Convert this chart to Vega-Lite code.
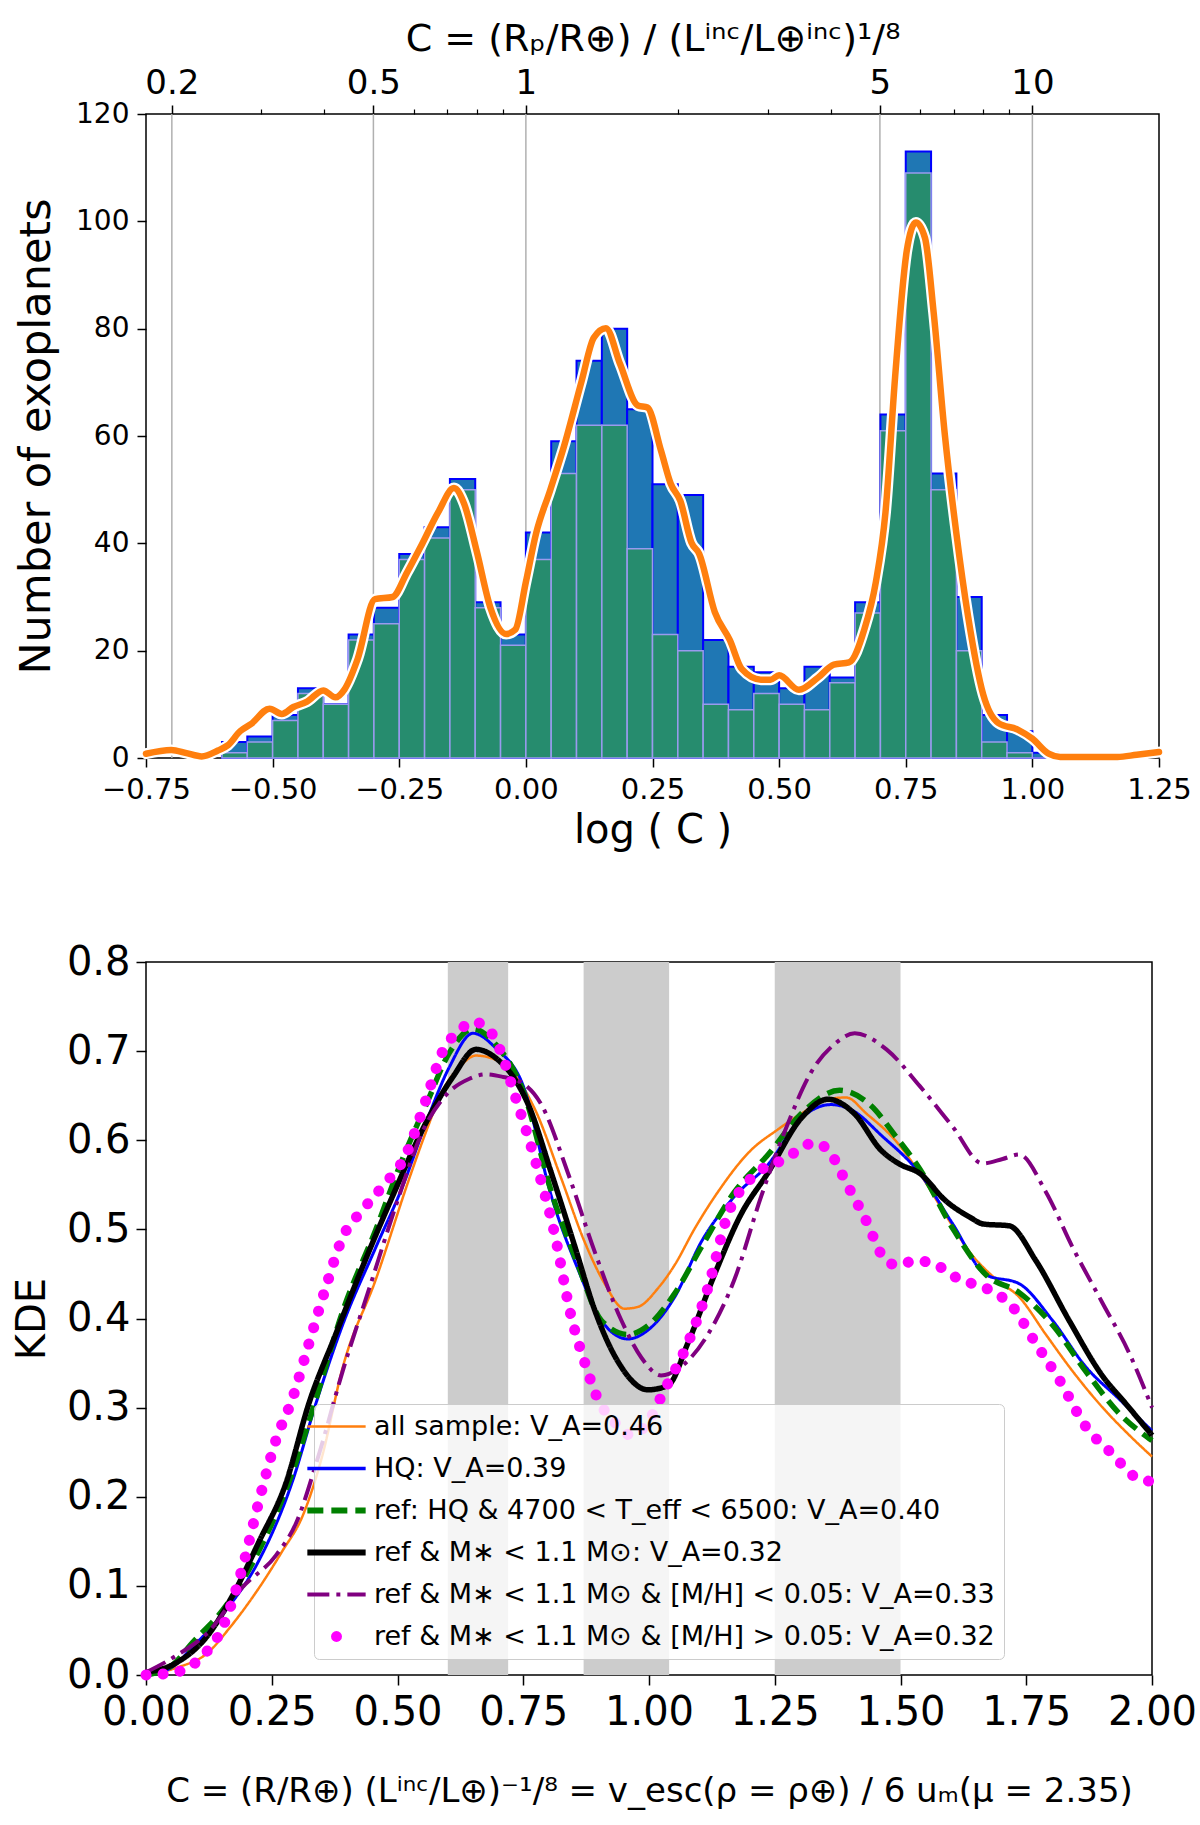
{
  "$schema": "https://vega.github.io/schema/vega-lite/v6.json",
  "padding": {"left": 11, "top": 19, "right": 4, "bottom": 4},
  "spacing": 90,
  "resolve": {"legend": {"color": "independent"}},
  "config": {
    "font": "DejaVu Sans",
    "view": {"stroke": "#000000", "strokeWidth": 1.5},
    "axis": {"domain": false, "grid": false, "tickColor": "#000000", "tickWidth": 1.5, "tickSize": 9, "labelColor": "#000000", "titleColor": "#000000", "titleFontWeight": "normal", "labelFont": "DejaVu Sans", "titleFont": "DejaVu Sans", "labelFlush": false, "labelOverlap": false}
  },
  "datasets": {
    "major": [{"lc": -0.69897}, {"lc": -0.30103}, {"lc": 0}, {"lc": 0.69897}, {"lc": 1}],
    "minor": [{"lc": -0.52288}, {"lc": -0.39794}, {"lc": -0.22185}, {"lc": -0.1549}, {"lc": -0.09691}, {"lc": -0.04576}, {"lc": 0.30103}, {"lc": 0.47712}, {"lc": 0.60206}, {"lc": 0.77815}, {"lc": 0.8451}, {"lc": 0.90309}, {"lc": 0.95424}],
    "hist": [
      {"lo": -0.60, "hi": -0.55, "all": 3, "sub": 1},
      {"lo": -0.55, "hi": -0.50, "all": 4, "sub": 3},
      {"lo": -0.50, "hi": -0.45, "all": 8, "sub": 7},
      {"lo": -0.45, "hi": -0.40, "all": 13, "sub": 12},
      {"lo": -0.40, "hi": -0.35, "all": 10, "sub": 10},
      {"lo": -0.35, "hi": -0.30, "all": 23, "sub": 22},
      {"lo": -0.30, "hi": -0.25, "all": 28, "sub": 25},
      {"lo": -0.25, "hi": -0.20, "all": 38, "sub": 37},
      {"lo": -0.20, "hi": -0.15, "all": 43, "sub": 41},
      {"lo": -0.15, "hi": -0.10, "all": 52, "sub": 50},
      {"lo": -0.10, "hi": -0.05, "all": 29, "sub": 28},
      {"lo": -0.05, "hi": 0.00, "all": 23, "sub": 21},
      {"lo": 0.00, "hi": 0.05, "all": 42, "sub": 37},
      {"lo": 0.05, "hi": 0.10, "all": 59, "sub": 53},
      {"lo": 0.10, "hi": 0.15, "all": 74, "sub": 62},
      {"lo": 0.15, "hi": 0.20, "all": 80, "sub": 62},
      {"lo": 0.20, "hi": 0.25, "all": 65, "sub": 39},
      {"lo": 0.25, "hi": 0.30, "all": 51, "sub": 23},
      {"lo": 0.30, "hi": 0.35, "all": 49, "sub": 20},
      {"lo": 0.35, "hi": 0.40, "all": 22, "sub": 10},
      {"lo": 0.40, "hi": 0.45, "all": 17, "sub": 9},
      {"lo": 0.45, "hi": 0.50, "all": 16, "sub": 12},
      {"lo": 0.50, "hi": 0.55, "all": 13, "sub": 10},
      {"lo": 0.55, "hi": 0.60, "all": 17, "sub": 9},
      {"lo": 0.60, "hi": 0.65, "all": 15, "sub": 14},
      {"lo": 0.65, "hi": 0.70, "all": 29, "sub": 27},
      {"lo": 0.70, "hi": 0.75, "all": 64, "sub": 61},
      {"lo": 0.75, "hi": 0.80, "all": 113, "sub": 109},
      {"lo": 0.80, "hi": 0.85, "all": 53, "sub": 50},
      {"lo": 0.85, "hi": 0.90, "all": 30, "sub": 20},
      {"lo": 0.90, "hi": 0.95, "all": 8, "sub": 3},
      {"lo": 0.95, "hi": 1.00, "all": 5, "sub": 1},
      {"lo": 1.00, "hi": 1.05, "all": 1, "sub": 0}
    ],
    "kdeTop": [
      {"x": -0.75, "v": 0.8}, {"x": -0.70, "v": 1.5}, {"x": -0.67, "v": 0.9}, {"x": -0.64, "v": 0.3},
      {"x": -0.608, "v": 1.4}, {"x": -0.588, "v": 2.4}, {"x": -0.564, "v": 5.0}, {"x": -0.543, "v": 6.3},
      {"x": -0.506, "v": 9.2}, {"x": -0.482, "v": 8.2}, {"x": -0.459, "v": 9.5}, {"x": -0.432, "v": 10.5},
      {"x": -0.40, "v": 12.6}, {"x": -0.376, "v": 11.3}, {"x": -0.358, "v": 12.8}, {"x": -0.332, "v": 18.5},
      {"x": -0.298, "v": 29.6}, {"x": -0.263, "v": 30.0}, {"x": -0.235, "v": 34.5}, {"x": -0.208, "v": 39.3},
      {"x": -0.173, "v": 45.8}, {"x": -0.142, "v": 50.3}, {"x": -0.122, "v": 47.4}, {"x": -0.097, "v": 38.5},
      {"x": -0.07, "v": 28.0}, {"x": -0.039, "v": 23.1}, {"x": -0.021, "v": 23.9}, {"x": 0.0, "v": 32.8},
      {"x": 0.02, "v": 41.8}, {"x": 0.048, "v": 49.9}, {"x": 0.075, "v": 58.0}, {"x": 0.11, "v": 70.2},
      {"x": 0.134, "v": 78.3}, {"x": 0.158, "v": 80.1}, {"x": 0.186, "v": 73.4}, {"x": 0.221, "v": 65.7},
      {"x": 0.24, "v": 65.3}, {"x": 0.267, "v": 57.2}, {"x": 0.286, "v": 51.1}, {"x": 0.305, "v": 47.9},
      {"x": 0.327, "v": 40.1}, {"x": 0.342, "v": 38.1}, {"x": 0.373, "v": 27.2}, {"x": 0.403, "v": 21.9},
      {"x": 0.426, "v": 16.6}, {"x": 0.464, "v": 14.6}, {"x": 0.483, "v": 14.6}, {"x": 0.5, "v": 15.4},
      {"x": 0.539, "v": 12.7}, {"x": 0.577, "v": 15.0}, {"x": 0.608, "v": 17.4}, {"x": 0.638, "v": 17.8},
      {"x": 0.668, "v": 23.9}, {"x": 0.691, "v": 32.8}, {"x": 0.71, "v": 45.8}, {"x": 0.729, "v": 71.0},
      {"x": 0.752, "v": 94.5}, {"x": 0.77, "v": 99.8}, {"x": 0.788, "v": 96.9}, {"x": 0.805, "v": 83.1},
      {"x": 0.827, "v": 60.4}, {"x": 0.85, "v": 41.8}, {"x": 0.873, "v": 26.4}, {"x": 0.903, "v": 11.8},
      {"x": 0.933, "v": 6.5}, {"x": 0.971, "v": 5.3}, {"x": 1.0, "v": 3.6}, {"x": 1.032, "v": 0.8},
      {"x": 1.055, "v": 0.2}, {"x": 1.168, "v": 0.2}, {"x": 1.206, "v": 0.6}, {"x": 1.25, "v": 1.1}
    ],
    "bands": [{"x0": 0.6, "x1": 0.72}, {"x0": 0.87, "x1": 1.04}, {"x0": 1.25, "x1": 1.5}],
    "kde": [
      {"s": "a", "x": 0, "y": 0}, {"s": "a", "x": 0.06, "y": 0.008}, {"s": "a", "x": 0.125, "y": 0.026}, {"s": "a", "x": 0.165, "y": 0.052},
      {"s": "a", "x": 0.225, "y": 0.098}, {"s": "a", "x": 0.271, "y": 0.139}, {"s": "a", "x": 0.311, "y": 0.178}, {"s": "a", "x": 0.35, "y": 0.245},
      {"s": "a", "x": 0.391, "y": 0.345}, {"s": "a", "x": 0.457, "y": 0.444}, {"s": "a", "x": 0.524, "y": 0.558}, {"s": "a", "x": 0.557, "y": 0.61},
      {"s": "a", "x": 0.59, "y": 0.656}, {"s": "a", "x": 0.623, "y": 0.682}, {"s": "a", "x": 0.656, "y": 0.695}, {"s": "a", "x": 0.707, "y": 0.687},
      {"s": "a", "x": 0.773, "y": 0.635}, {"s": "a", "x": 0.825, "y": 0.558}, {"s": "a", "x": 0.872, "y": 0.486}, {"s": "a", "x": 0.912, "y": 0.439},
      {"s": "a", "x": 0.951, "y": 0.411}, {"s": "a", "x": 0.978, "y": 0.413}, {"s": "a", "x": 1.018, "y": 0.434}, {"s": "a", "x": 1.051, "y": 0.46},
      {"s": "a", "x": 1.091, "y": 0.501}, {"s": "a", "x": 1.137, "y": 0.542}, {"s": "a", "x": 1.203, "y": 0.589}, {"s": "a", "x": 1.256, "y": 0.612},
      {"s": "a", "x": 1.303, "y": 0.63}, {"s": "a", "x": 1.356, "y": 0.646}, {"s": "a", "x": 1.392, "y": 0.648}, {"s": "a", "x": 1.432, "y": 0.63},
      {"s": "a", "x": 1.491, "y": 0.599}, {"s": "a", "x": 1.538, "y": 0.563}, {"s": "a", "x": 1.59, "y": 0.516}, {"s": "a", "x": 1.637, "y": 0.475},
      {"s": "a", "x": 1.69, "y": 0.444}, {"s": "a", "x": 1.736, "y": 0.424}, {"s": "a", "x": 1.789, "y": 0.382}, {"s": "a", "x": 1.842, "y": 0.341},
      {"s": "a", "x": 1.902, "y": 0.3}, {"s": "a", "x": 1.955, "y": 0.269}, {"s": "a", "x": 2.0, "y": 0.245},

      {"s": "b", "x": 0, "y": 0}, {"s": "b", "x": 0.05, "y": 0.008}, {"s": "b", "x": 0.092, "y": 0.031}, {"s": "b", "x": 0.158, "y": 0.072},
      {"s": "b", "x": 0.225, "y": 0.129}, {"s": "b", "x": 0.291, "y": 0.217}, {"s": "b", "x": 0.338, "y": 0.305}, {"s": "b", "x": 0.391, "y": 0.393},
      {"s": "b", "x": 0.457, "y": 0.48}, {"s": "b", "x": 0.51, "y": 0.548}, {"s": "b", "x": 0.557, "y": 0.62}, {"s": "b", "x": 0.603, "y": 0.682},
      {"s": "b", "x": 0.65, "y": 0.72}, {"s": "b", "x": 0.696, "y": 0.703}, {"s": "b", "x": 0.75, "y": 0.661}, {"s": "b", "x": 0.806, "y": 0.537},
      {"s": "b", "x": 0.859, "y": 0.455}, {"s": "b", "x": 0.905, "y": 0.398}, {"s": "b", "x": 0.958, "y": 0.377}, {"s": "b", "x": 0.998, "y": 0.387},
      {"s": "b", "x": 1.051, "y": 0.424}, {"s": "b", "x": 1.104, "y": 0.486}, {"s": "b", "x": 1.17, "y": 0.537}, {"s": "b", "x": 1.237, "y": 0.573},
      {"s": "b", "x": 1.303, "y": 0.625}, {"s": "b", "x": 1.362, "y": 0.64}, {"s": "b", "x": 1.406, "y": 0.633}, {"s": "b", "x": 1.461, "y": 0.606},
      {"s": "b", "x": 1.538, "y": 0.563}, {"s": "b", "x": 1.604, "y": 0.506}, {"s": "b", "x": 1.67, "y": 0.449}, {"s": "b", "x": 1.736, "y": 0.439},
      {"s": "b", "x": 1.802, "y": 0.398}, {"s": "b", "x": 1.868, "y": 0.346}, {"s": "b", "x": 1.934, "y": 0.31}, {"s": "b", "x": 2.0, "y": 0.274},

      {"s": "c", "x": 0, "y": 0}, {"s": "c", "x": 0.05, "y": 0.01}, {"s": "c", "x": 0.092, "y": 0.036}, {"s": "c", "x": 0.158, "y": 0.077},
      {"s": "c", "x": 0.225, "y": 0.14}, {"s": "c", "x": 0.291, "y": 0.227}, {"s": "c", "x": 0.338, "y": 0.31}, {"s": "c", "x": 0.391, "y": 0.408},
      {"s": "c", "x": 0.457, "y": 0.5}, {"s": "c", "x": 0.51, "y": 0.579}, {"s": "c", "x": 0.557, "y": 0.64}, {"s": "c", "x": 0.603, "y": 0.698},
      {"s": "c", "x": 0.65, "y": 0.725}, {"s": "c", "x": 0.696, "y": 0.707}, {"s": "c", "x": 0.75, "y": 0.655}, {"s": "c", "x": 0.806, "y": 0.542},
      {"s": "c", "x": 0.859, "y": 0.46}, {"s": "c", "x": 0.905, "y": 0.398}, {"s": "c", "x": 0.958, "y": 0.382}, {"s": "c", "x": 0.998, "y": 0.392},
      {"s": "c", "x": 1.051, "y": 0.428}, {"s": "c", "x": 1.104, "y": 0.48}, {"s": "c", "x": 1.17, "y": 0.542}, {"s": "c", "x": 1.237, "y": 0.584},
      {"s": "c", "x": 1.303, "y": 0.63}, {"s": "c", "x": 1.379, "y": 0.656}, {"s": "c", "x": 1.439, "y": 0.64}, {"s": "c", "x": 1.491, "y": 0.604},
      {"s": "c", "x": 1.538, "y": 0.568}, {"s": "c", "x": 1.604, "y": 0.501}, {"s": "c", "x": 1.67, "y": 0.449}, {"s": "c", "x": 1.736, "y": 0.429},
      {"s": "c", "x": 1.802, "y": 0.393}, {"s": "c", "x": 1.868, "y": 0.341}, {"s": "c", "x": 1.934, "y": 0.294}, {"s": "c", "x": 2.0, "y": 0.263},

      {"s": "d", "x": 0, "y": 0.003}, {"s": "d", "x": 0.058, "y": 0.013}, {"s": "d", "x": 0.125, "y": 0.046}, {"s": "d", "x": 0.171, "y": 0.088},
      {"s": "d", "x": 0.225, "y": 0.15}, {"s": "d", "x": 0.278, "y": 0.215}, {"s": "d", "x": 0.324, "y": 0.305}, {"s": "d", "x": 0.377, "y": 0.382},
      {"s": "d", "x": 0.424, "y": 0.449}, {"s": "d", "x": 0.49, "y": 0.537}, {"s": "d", "x": 0.557, "y": 0.62}, {"s": "d", "x": 0.61, "y": 0.671},
      {"s": "d", "x": 0.656, "y": 0.702}, {"s": "d", "x": 0.696, "y": 0.692}, {"s": "d", "x": 0.736, "y": 0.666}, {"s": "d", "x": 0.76, "y": 0.64},
      {"s": "d", "x": 0.806, "y": 0.563}, {"s": "d", "x": 0.853, "y": 0.48}, {"s": "d", "x": 0.893, "y": 0.408}, {"s": "d", "x": 0.939, "y": 0.351},
      {"s": "d", "x": 0.998, "y": 0.32}, {"s": "d", "x": 1.038, "y": 0.325}, {"s": "d", "x": 1.077, "y": 0.372}, {"s": "d", "x": 1.13, "y": 0.449},
      {"s": "d", "x": 1.183, "y": 0.517}, {"s": "d", "x": 1.236, "y": 0.563}, {"s": "d", "x": 1.303, "y": 0.625}, {"s": "d", "x": 1.356, "y": 0.646},
      {"s": "d", "x": 1.408, "y": 0.63}, {"s": "d", "x": 1.461, "y": 0.589}, {"s": "d", "x": 1.499, "y": 0.573}, {"s": "d", "x": 1.538, "y": 0.563},
      {"s": "d", "x": 1.59, "y": 0.532}, {"s": "d", "x": 1.637, "y": 0.514}, {"s": "d", "x": 1.665, "y": 0.506}, {"s": "d", "x": 1.716, "y": 0.504},
      {"s": "d", "x": 1.769, "y": 0.465}, {"s": "d", "x": 1.835, "y": 0.398}, {"s": "d", "x": 1.901, "y": 0.336}, {"s": "d", "x": 1.947, "y": 0.305},
      {"s": "d", "x": 2.0, "y": 0.269},

      {"s": "e", "x": 0, "y": 0.003}, {"s": "e", "x": 0.058, "y": 0.021}, {"s": "e", "x": 0.125, "y": 0.049}, {"s": "e", "x": 0.191, "y": 0.098},
      {"s": "e", "x": 0.258, "y": 0.134}, {"s": "e", "x": 0.298, "y": 0.17}, {"s": "e", "x": 0.344, "y": 0.248}, {"s": "e", "x": 0.391, "y": 0.341},
      {"s": "e", "x": 0.444, "y": 0.434}, {"s": "e", "x": 0.497, "y": 0.527}, {"s": "e", "x": 0.55, "y": 0.61}, {"s": "e", "x": 0.597, "y": 0.651},
      {"s": "e", "x": 0.643, "y": 0.669}, {"s": "e", "x": 0.676, "y": 0.674}, {"s": "e", "x": 0.71, "y": 0.671}, {"s": "e", "x": 0.746, "y": 0.665},
      {"s": "e", "x": 0.786, "y": 0.64}, {"s": "e", "x": 0.839, "y": 0.563}, {"s": "e", "x": 0.892, "y": 0.475}, {"s": "e", "x": 0.945, "y": 0.398},
      {"s": "e", "x": 0.985, "y": 0.356}, {"s": "e", "x": 1.024, "y": 0.336}, {"s": "e", "x": 1.064, "y": 0.346}, {"s": "e", "x": 1.117, "y": 0.382},
      {"s": "e", "x": 1.17, "y": 0.444}, {"s": "e", "x": 1.223, "y": 0.537}, {"s": "e", "x": 1.27, "y": 0.61}, {"s": "e", "x": 1.323, "y": 0.677},
      {"s": "e", "x": 1.369, "y": 0.708}, {"s": "e", "x": 1.409, "y": 0.72}, {"s": "e", "x": 1.472, "y": 0.702}, {"s": "e", "x": 1.538, "y": 0.661},
      {"s": "e", "x": 1.604, "y": 0.615}, {"s": "e", "x": 1.663, "y": 0.574}, {"s": "e", "x": 1.703, "y": 0.579}, {"s": "e", "x": 1.736, "y": 0.584},
      {"s": "e", "x": 1.789, "y": 0.542}, {"s": "e", "x": 1.842, "y": 0.48}, {"s": "e", "x": 1.901, "y": 0.418}, {"s": "e", "x": 1.954, "y": 0.362},
      {"s": "e", "x": 2.0, "y": 0.3}
    ],
    "kdeM": [
      {"s": "f", "x": 0.0, "y": 0.0}, {"s": "f", "x": 0.058, "y": 0.003}, {"s": "f", "x": 0.112, "y": 0.021}, {"s": "f", "x": 0.151, "y": 0.052},
      {"s": "f", "x": 0.191, "y": 0.119}, {"s": "f", "x": 0.225, "y": 0.196}, {"s": "f", "x": 0.258, "y": 0.263}, {"s": "f", "x": 0.291, "y": 0.31},
      {"s": "f", "x": 0.324, "y": 0.372}, {"s": "f", "x": 0.357, "y": 0.434}, {"s": "f", "x": 0.391, "y": 0.491}, {"s": "f", "x": 0.431, "y": 0.522},
      {"s": "f", "x": 0.47, "y": 0.548}, {"s": "f", "x": 0.517, "y": 0.584}, {"s": "f", "x": 0.557, "y": 0.646}, {"s": "f", "x": 0.59, "y": 0.7},
      {"s": "f", "x": 0.623, "y": 0.723}, {"s": "f", "x": 0.65, "y": 0.733}, {"s": "f", "x": 0.683, "y": 0.723}, {"s": "f", "x": 0.707, "y": 0.697},
      {"s": "f", "x": 0.733, "y": 0.651}, {"s": "f", "x": 0.773, "y": 0.579}, {"s": "f", "x": 0.812, "y": 0.496}, {"s": "f", "x": 0.845, "y": 0.403},
      {"s": "f", "x": 0.872, "y": 0.351}, {"s": "f", "x": 0.898, "y": 0.31}, {"s": "f", "x": 0.931, "y": 0.284}, {"s": "f", "x": 0.965, "y": 0.269},
      {"s": "f", "x": 0.998, "y": 0.284}, {"s": "f", "x": 1.031, "y": 0.32}, {"s": "f", "x": 1.077, "y": 0.372}, {"s": "f", "x": 1.117, "y": 0.434},
      {"s": "f", "x": 1.157, "y": 0.517}, {"s": "f", "x": 1.204, "y": 0.558}, {"s": "f", "x": 1.27, "y": 0.579}, {"s": "f", "x": 1.329, "y": 0.597},
      {"s": "f", "x": 1.356, "y": 0.589}, {"s": "f", "x": 1.396, "y": 0.548}, {"s": "f", "x": 1.435, "y": 0.506}, {"s": "f", "x": 1.462, "y": 0.472},
      {"s": "f", "x": 1.492, "y": 0.46}, {"s": "f", "x": 1.531, "y": 0.465}, {"s": "f", "x": 1.571, "y": 0.46}, {"s": "f", "x": 1.617, "y": 0.444},
      {"s": "f", "x": 1.67, "y": 0.434}, {"s": "f", "x": 1.723, "y": 0.413}, {"s": "f", "x": 1.769, "y": 0.372}, {"s": "f", "x": 1.816, "y": 0.331},
      {"s": "f", "x": 1.868, "y": 0.279}, {"s": "f", "x": 1.921, "y": 0.248}, {"s": "f", "x": 1.967, "y": 0.222}, {"s": "f", "x": 2.0, "y": 0.217}
    ]
  },
  "vconcat": [
    {
      "width": 1013,
      "height": 644,
      "resolve": {"axis": {"x": "independent"}},
      "layer": [
        {
          "data": {"name": "major"},
          "mark": {"type": "rule", "color": "#b0b0b0", "strokeWidth": 1.5},
          "encoding": {
            "x": {"field": "lc", "type": "quantitative", "scale": {"domain": [-0.75, 1.25], "nice": false, "zero": false},
              "axis": {"orient": "top", "values": [-0.69897, -0.30103, 0, 0.69897, 1], "labelExpr": "format(pow(10, datum.value), '.2~g')", "labelFontSize": 34, "labelPadding": 5, "tickSize": 9, "title": "C = (Rₚ/R⊕) / (Lⁱⁿᶜ/L⊕ⁱⁿᶜ)¹/⁸", "titleFontSize": 38, "titlePadding": 8}},
            "y": {"datum": 0, "type": "quantitative", "scale": {"domain": [0, 120], "nice": false}},
            "y2": {"datum": 120}
          }
        },
        {
          "data": {"name": "minor"},
          "mark": {"type": "rule", "opacity": 0},
          "encoding": {
            "x": {"field": "lc", "type": "quantitative",
              "axis": {"orient": "top", "values": [-0.52288, -0.39794, -0.22185, -0.1549, -0.09691, -0.04576, 0.30103, 0.47712, 0.60206, 0.77815, 0.8451, 0.90309, 0.95424], "labels": false, "tickSize": 5, "tickWidth": 1.2, "title": null}},
            "y": {"datum": 0, "type": "quantitative"},
            "y2": {"datum": 120}
          }
        },
        {
          "data": {"name": "hist"},
          "mark": {"type": "rect", "fill": "#1f77b4", "stroke": "#0000ff", "strokeWidth": 2},
          "encoding": {
            "x": {"field": "lo", "type": "quantitative",
              "axis": {"values": [-0.75, -0.5, -0.25, 0, 0.25, 0.5, 0.75, 1, 1.25], "format": ".2f", "labelFontSize": 29, "labelPadding": 8, "title": "log ( C )", "titleFontSize": 40, "titlePadding": 6}},
            "x2": {"field": "hi"},
            "y": {"field": "all", "type": "quantitative",
              "axis": {"values": [0, 20, 40, 60, 80, 100, 120], "labelFontSize": 28, "labelPadding": 8, "title": "Number of exoplanets", "titleFontSize": 43, "titlePadding": 17}},
            "y2": {"datum": 0}
          }
        },
        {
          "data": {"name": "hist"},
          "mark": {"type": "rect", "fill": "#268c6e", "stroke": "#9a9aee", "strokeWidth": 1.5},
          "encoding": {
            "x": {"field": "lo", "type": "quantitative", "axis": null},
            "x2": {"field": "hi"},
            "y": {"field": "sub", "type": "quantitative"},
            "y2": {"datum": 0}
          }
        },
        {
          "data": {"name": "kdeTop"},
          "mark": {"type": "line", "color": "#ffffff", "strokeWidth": 11, "interpolate": "monotone", "strokeJoin": "round", "strokeCap": "round"},
          "encoding": {
            "x": {"field": "x", "type": "quantitative", "axis": null},
            "y": {"field": "v", "type": "quantitative"}
          }
        },
        {
          "data": {"name": "kdeTop"},
          "mark": {"type": "line", "color": "#ff7f0e", "strokeWidth": 6.5, "interpolate": "monotone", "strokeJoin": "round", "strokeCap": "round"},
          "encoding": {
            "x": {"field": "x", "type": "quantitative", "axis": null},
            "y": {"field": "v", "type": "quantitative"}
          }
        }
      ]
    },
    {
      "width": 1006,
      "height": 713,
      "layer": [
        {
          "data": {"name": "bands"},
          "mark": {"type": "rect", "color": "#cccccc"},
          "encoding": {
            "x": {"field": "x0", "type": "quantitative", "scale": {"domain": [0, 2], "nice": false, "zero": false},
              "axis": {"values": [0, 0.25, 0.5, 0.75, 1, 1.25, 1.5, 1.75, 2], "format": ".2f", "labelFontSize": 40, "labelPadding": 7, "tickSize": 10, "title": "C = (R/R⊕) (Lⁱⁿᶜ/L⊕)⁻¹/⁸ = v_esc(ρ = ρ⊕) / 6 uₘ(μ = 2.35)", "titleFontSize": 34, "titlePadding": 42}},
            "x2": {"field": "x1"},
            "y": {"datum": 0, "type": "quantitative", "scale": {"domain": [0, 0.8], "nice": false},
              "axis": {"values": [0, 0.1, 0.2, 0.3, 0.4, 0.5, 0.6, 0.7, 0.8], "format": ".1f", "labelFontSize": 40, "labelPadding": 6, "tickSize": 10, "title": "KDE", "titleFontSize": 40, "titlePadding": 14}},
            "y2": {"datum": 0.8}
          }
        },
        {
          "data": {"name": "kde"},
          "mark": {"type": "line", "interpolate": "monotone", "strokeJoin": "round"},
          "encoding": {
            "x": {"field": "x", "type": "quantitative"},
            "y": {"field": "y", "type": "quantitative"},
            "color": {"field": "s", "type": "nominal", "scale": {"domain": ["a", "b", "c", "d", "e", "f"], "range": ["#ff7f0e", "#0000ff", "#008000", "#000000", "#800080", "#ff00ff"]},
              "legend": {"title": null, "orient": "none", "legendX": 168, "legendY": 442, "labelFontSize": 27, "labelFont": "DejaVu Sans", "labelColor": "#000000", "labelLimit": 900, "symbolType": "stroke", "symbolSize": 3300, "fillColor": "rgba(255,255,255,0.8)", "strokeColor": "#cccccc", "cornerRadius": 5, "padding": 9, "rowPadding": 14, "labelOffset": 24,
                "labelExpr": "datum.value == 'a' ? 'all sample: V_A=0.46' : datum.value == 'b' ? 'HQ: V_A=0.39' : datum.value == 'c' ? 'ref: HQ & 4700 < T_eff < 6500: V_A=0.40' : datum.value == 'd' ? 'ref & M∗ < 1.1 M⊙: V_A=0.32' : datum.value == 'e' ? 'ref & M∗ < 1.1 M⊙ & [M/H] < 0.05: V_A=0.33' : 'ref & M∗ < 1.1 M⊙ & [M/H] > 0.05: V_A=0.32'",
                "encode": {"symbols": {"update": {
                  "shape": {"signal": "datum.value == 'f' ? 'circle' : 'stroke'"},
                  "size": {"signal": "datum.value == 'f' ? 120 : 3400"},
                  "fill": {"signal": "datum.value == 'f' ? '#ff00ff' : 'transparent'"},
                  "strokeDash": {"signal": "datum.value == 'c' ? [16, 8] : datum.value == 'e' ? [22, 7, 4, 7] : [1, 0]"},
                  "strokeWidth": {"signal": "datum.value == 'a' ? 2.5 : datum.value == 'b' ? 3.5 : datum.value == 'e' ? 4 : datum.value == 'f' ? 0 : 6"}
                }}}}},
            "strokeDash": {"field": "s", "type": "nominal", "legend": null, "scale": {"domain": ["a", "b", "c", "d", "e"], "range": [[1, 0], [1, 0], [16, 8], [1, 0], [22, 7, 4, 7]]}},
            "strokeWidth": {"field": "s", "type": "nominal", "legend": null, "scale": {"type": "ordinal", "domain": ["a", "b", "c", "d", "e"], "range": [2.5, 3, 5.5, 5.5, 4]}}
          }
        },
        {
          "data": {"name": "kdeM"},
          "mark": {"type": "line", "interpolate": "monotone", "strokeCap": "round", "strokeWidth": 11, "strokeDash": [0.1, 17]},
          "encoding": {
            "x": {"field": "x", "type": "quantitative"},
            "y": {"field": "y", "type": "quantitative"},
            "color": {"field": "s", "type": "nominal"}
          }
        }
      ]
    }
  ]
}
